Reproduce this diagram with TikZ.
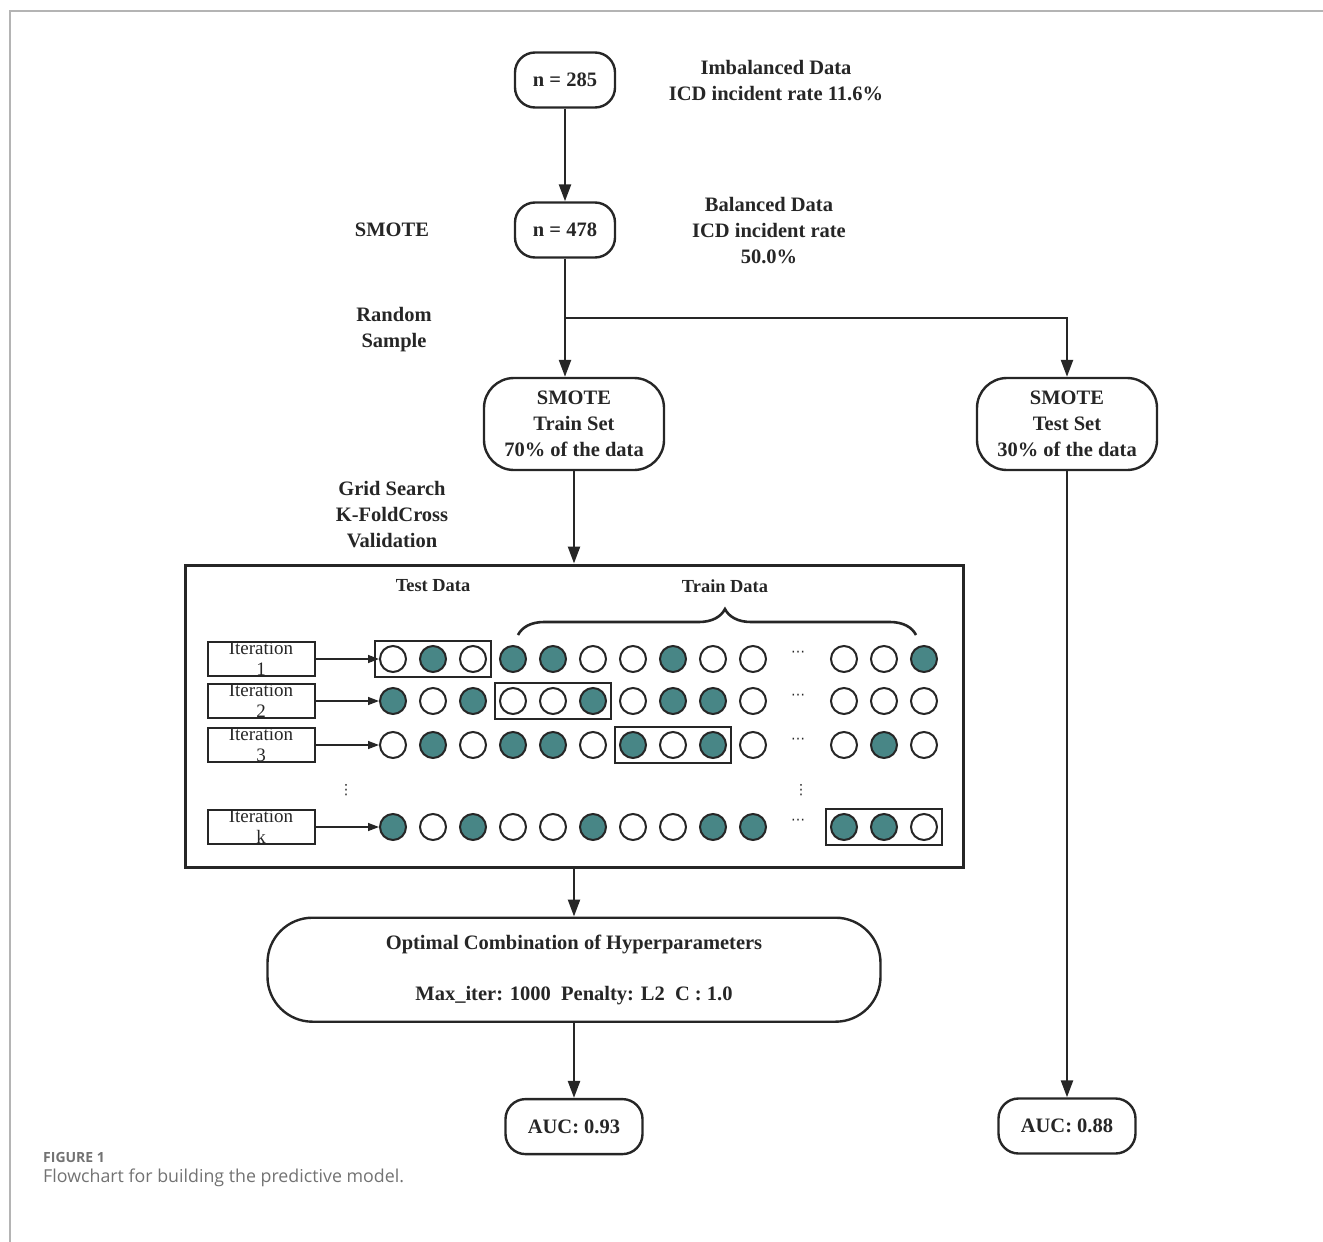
\documentclass[tikz,border=0pt]{standalone}
\usepackage{fontspec}
\setmainfont{Liberation Serif}
\newfontfamily\capfont{Open Sans}
\newfontfamily\symfont{DejaVu Sans}
\usepackage{xcolor}
\usetikzlibrary{arrows.meta,positioning,fit,decorations.pathreplacing}
\definecolor{ink}{HTML}{262626}
\definecolor{dotfill}{RGB}{72,134,134}
\definecolor{framegray}{HTML}{B4B4B4}
\definecolor{capgray}{HTML}{727272}

\begin{document}
\begin{tikzpicture}[x=1pt, y=-1pt,
  flow/.style={draw=ink, line width=2.4pt, -{Triangle[length=17pt,width=12pt]}},
  thin flow/.style={draw=ink, line width=1.4pt, -{Triangle[length=11pt,width=8pt]}},
  term/.style={rectangle, draw=ink, line width=2.4pt, rounded corners=20pt, align=center,
    font=\bfseries\fontsize{20.5}{26}\selectfont, text=ink, inner sep=0pt},
  lbl/.style={align=center, font=\bfseries\fontsize{20.5}{26}\selectfont, text=ink, inner sep=0pt},
  itbox/.style={rectangle, draw=ink, line width=2pt, minimum width=107pt, minimum height=34pt},
  itlbl/.style={align=center, font=\fontsize{19}{21}\selectfont, text=ink, inner sep=0pt},
  dots/.style={text=ink, font=\symfont\fontsize{14}{16}\selectfont, inner sep=0pt},
  dot/.style={circle, draw=ink, line width=2pt, minimum size=26pt, inner sep=0pt},
  dot0/.style={dot, fill=white},
  dot1/.style={dot, fill=dotfill},
  grp/.style={rectangle, draw=ink, line width=2pt, inner sep=4pt}]
\useasboundingbox (0,0) rectangle (1323,1242);

% page frame
\draw[framegray, line width=2pt] (10,1242) -- (10,11) -- (1323,11);

% main flow
\node[term, minimum width=100pt, minimum height=55pt] (n285) at (565,80) {n = 285};
\node[term, minimum width=100pt, minimum height=55pt] (n478) at (565,230) {n = 478};
\node[term, minimum width=180pt, minimum height=92pt, rounded corners=30pt] (train) at (574,424) {SMOTE\\Train Set\\70\% of the data};
\node[term, minimum width=180pt, minimum height=92pt, rounded corners=30pt] (test) at (1067,424) {SMOTE\\Test Set\\30\% of the data};
\node[draw=ink, line width=3pt, minimum width=778pt, minimum height=302pt, inner sep=0pt] (cv) at (574,716) {};
\node[term, minimum width=613pt, minimum height=104pt, rounded corners=45pt, below=48pt of cv] (optimal) {Optimal Combination of Hyperparameters\\[25pt]Max\_iter: 1000\ \ Penalty: L2\ \ C : 1.0};
\node[term, minimum width=137pt, minimum height=55pt, below=75pt of optimal] (auc1) {AUC: 0.93};
\node[term, minimum width=137pt, minimum height=55pt] (auc2) at (1067,1126) {AUC: 0.88};

% side labels
\node[lbl] (imb) at (776,81) {Imbalanced Data\\ICD incident rate 11.6\%};
\node[lbl] (bal) at (769,231) {Balanced Data\\ICD incident rate\\50.0\%};
\node[lbl] (smote) at (392,230) {SMOTE};
\node[lbl] (rand) at (394,330) {Random\\Sample};
\node[lbl] (grid) at (392,515) {Grid Search\\K-FoldCross\\Validation};

% arrows
\coordinate (split) at (565,318);
\draw[flow] (n285) -- (n478);
\draw[flow] (n478) -- (n478 |- train.north);
\draw[flow] (split) -| (test.north);
\draw[flow] (train) -- (cv);
\draw[flow] (cv) -- (optimal);
\draw[flow] (optimal) -- (auc1);
\draw[flow] (test) -- (auc2);

% cross validation folds
\node[lbl, font=\bfseries\fontsize{18.4}{22}\selectfont] (testdata) at (433,586) {Test Data};
\node[lbl, font=\bfseries\fontsize{18.4}{22}\selectfont] (traindata) at (725,586) {Train Data};
\draw[ink, line width=2.6pt, decorate, decoration={brace, amplitude=26pt, aspect=0.52}] (518,635) -- (916,635);

\foreach \r/\y/\pat in {1/659/{0,1,0,1,1,0,0,1,0,0,0,0,1}, 2/701/{1,0,1,0,0,1,0,1,1,0,0,0,0},
                        3/745/{0,1,0,1,1,0,1,0,1,0,0,1,0}, k/827/{1,0,1,0,0,1,0,0,1,1,1,1,0}}
  \foreach \f [count=\i] in \pat {
    \pgfmathsetmacro\cx{393+40*(\i-1)+51*(\i>10)}
    \node[dot\f] (c\r-\i) at (\cx,\y) {};
  }

\node[grp, fit=(c1-1)(c1-3)] (g1) {};
\node[grp, fit=(c2-4)(c2-6)] (g2) {};
\node[grp, fit=(c3-7)(c3-9)] (g3) {};
\node[grp, fit=(ck-11)(ck-13)] (gk) {};

\foreach \r/\y/\d in {1/659/654, 2/701/697, 3/745/741, k/827/822} {
  \node[itbox, label={[itlbl]center:Iteration\\\r}] (it\r) at (261,\y) {};
  \draw[thin flow] (it\r.east) -- (c\r-1.west);
  \node[dots] (hd\r) at (798,\d) {⋯};
}
\node[dots] (vd1) at (346,790) {⋮};
\node[dots] (vd2) at (801,790) {⋮};

% caption
\node[anchor=west, inner sep=0pt, text=capgray, font=\capfont\bfseries\fontsize{14}{16}\selectfont] (fig) at (43,1157) {FIGURE 1};
\node[anchor=west, inner sep=0pt, text=capgray, font=\capfont\fontsize{17.8}{21}\selectfont] (cap) at (43,1178) {Flowchart for building the predictive model.};
\end{tikzpicture}
\end{document}
